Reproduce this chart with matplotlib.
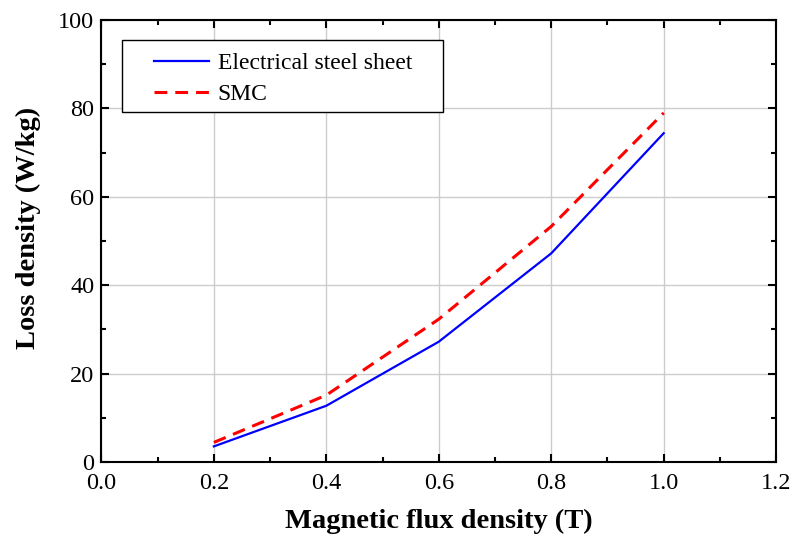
import numpy as np
import matplotlib
matplotlib.use('Agg')
import matplotlib.pyplot as plt
from matplotlib.ticker import MultipleLocator, FormatStrFormatter
from matplotlib.patches import Rectangle

# flux density (T) and loss density (W/kg)
flux = [0.2, 0.4, 0.6, 0.8, 1.0]
steel_loss = [3.5, 12.7, 27.2, 47.2, 74.4]
smc_loss = [4.4, 15.1, 32.3, 53.3, 79.0]

plt.rcParams['font.family'] = ['Liberation Serif', 'DejaVu Serif']

fig = plt.figure(figsize=(7.92, 5.44), dpi=100)
ax = fig.add_axes([0.128, 0.151, 0.852, 0.812])

ax.plot(flux, steel_loss, color='#0000ff', lw=1.6, label='Electrical steel sheet')
ax.plot(flux, smc_loss, color='#ff0000', lw=2.2, ls=(0, (4.2, 2.6)), label='SMC')

ax.set_xlim(0.0, 1.2)
ax.set_ylim(0, 100)
ax.xaxis.set_major_locator(MultipleLocator(0.2))
ax.xaxis.set_minor_locator(MultipleLocator(0.1))
ax.yaxis.set_major_locator(MultipleLocator(20))
ax.yaxis.set_minor_locator(MultipleLocator(10))
ax.xaxis.set_major_formatter(FormatStrFormatter('%.1f'))

ax.grid(True, which='major', color='#cccccc', lw=1.0)
ax.set_axisbelow(True)
ax.tick_params(which='both', direction='in', top=True, right=True, labelsize=17.5, width=1.5)
ax.tick_params(which='major', length=6, pad=5)
ax.tick_params(axis='x', which='major', pad=8)
ax.tick_params(which='minor', length=3.5)
for s in ax.spines.values():
    s.set_linewidth(1.5)

ax.set_xlabel('Magnetic flux density (T)', fontsize=20.5, fontweight='bold', labelpad=11)
ax.set_ylabel('Loss density (W/kg)', fontsize=20.5, fontweight='bold')
ax.yaxis.set_label_coords(-0.09, 0.529)

# legend frame drawn separately, it is wider than its content
ax.add_patch(Rectangle((0.031, 0.792), 0.475, 0.163, transform=ax.transAxes,
                       facecolor='white', edgecolor='black', lw=1.0, zorder=4))
leg = ax.legend(loc='upper left', bbox_to_anchor=(0.078, 0.926), borderaxespad=0,
                borderpad=0, fontsize=17, frameon=False,
                handlelength=2.35, handletextpad=0.35, labelspacing=0.4)
leg.set_zorder(5)

fig.savefig('out.png', dpi=100)
